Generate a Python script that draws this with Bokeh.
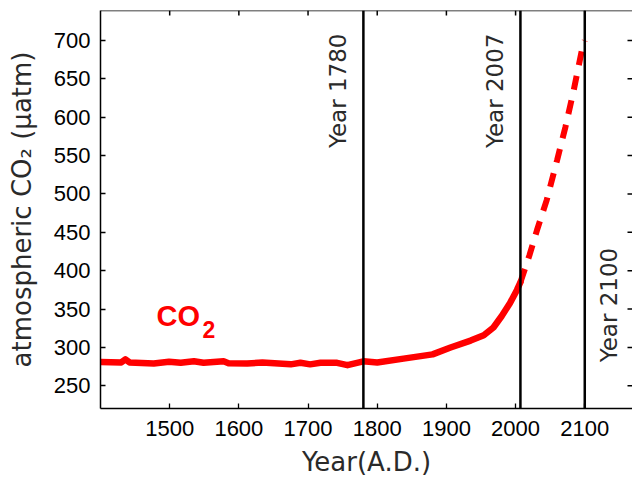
import math
from bokeh.plotting import figure
from bokeh.models import LinearAxis, Span, FixedTicker
from bokeh.core.properties import value
from bokeh.embed import file_html
from bokeh.resources import INLINE

# ---- data ----
hist_years = [1400, 1430, 1436, 1442, 1477, 1499, 1516, 1535, 1549, 1578, 1585,
              1612, 1634, 1675, 1689, 1703, 1718, 1742, 1757, 1780, 1800, 1838,
              1880, 1906, 1935, 1954, 1968, 1980, 1992, 2002, 2007]
hist_co2 = [281, 280.5, 284.5, 280.5, 279, 281.5, 280, 282, 280, 282, 279.5,
            279, 280.5, 278, 280, 278, 280, 280, 277, 282, 280.5, 285.5,
            291, 300, 309, 316, 326, 341, 358, 375, 385]
proj_years = [2007, 2020, 2031, 2045, 2060, 2072, 2084, 2096, 2100]
proj_co2 = [385, 420, 453, 492, 544, 587, 635, 688, 700]
marker_years = [1780, 2007, 2100]
marker_labels = ["Year 1780", "Year 2007", "Year 2100"]
x_ticks = [1500, 1600, 1700, 1800, 1900, 2000, 2100]
y_ticks = [250, 300, 350, 400, 450, 500, 550, 600, 650, 700]

TICK_FONT = "Liberation Sans"
LABEL_FONT = "DejaVu Sans"
X0, X1 = 1400, 2169
Y0, Y1 = 220.5, 739
FRAME_W, FRAME_H = 532, 397
TICK_LEN = 5  # px

p = figure(width=632, height=479, x_range=(X0, X1), y_range=(Y0, Y1),
           output_backend="svg", toolbar_location=None,
           min_border_left=100, min_border_top=10, min_border_right=0,
           min_border_bottom=70, x_axis_location=None, y_axis_location=None)
p.xgrid.visible = False
p.ygrid.visible = False
p.outline_line_color = None
p.background_fill_color = "white"
p.border_fill_color = "white"

def style_axis(ax, ticks):
    ax.ticker = FixedTicker(ticks=ticks)
    ax.major_tick_in = TICK_LEN
    ax.major_tick_out = 0
    ax.minor_tick_line_color = None
    ax.major_tick_line_color = "black"
    ax.major_tick_line_width = 1.3
    ax.axis_line_color = "black"
    ax.axis_line_width = 1.5
    ax.major_label_text_font = TICK_FONT
    ax.major_label_text_font_size = "22px"
    ax.major_label_text_color = "black"
    ax.axis_label_text_font = LABEL_FONT
    ax.axis_label_text_font_style = "normal"
    ax.axis_label_text_color = "#2a2a2a"

xb = LinearAxis(axis_label="Year(A.D.)")
style_axis(xb, x_ticks)
xb.major_label_standoff = 12
xb.axis_label_text_font_size = "26px"
xb.axis_label_standoff = 8
p.add_layout(xb, "below")

yl = LinearAxis(axis_label="atmospheric CO₂ (μatm)")
style_axis(yl, y_ticks)
yl.major_label_standoff = 10
yl.axis_label_text_font_size = "26px"
yl.axis_label_standoff = 14
p.add_layout(yl, "left")

# top spine and inward ticks on top / right edges
dx_tick = TICK_LEN * (X1 - X0) / FRAME_W
dy_tick = TICK_LEN * (Y1 - Y0) / FRAME_H
p.add_layout(Span(location=Y1, dimension="width", line_color="black",
                  line_width=1.5))
p.segment(x0=x_ticks, y0=[Y1] * len(x_ticks), x1=x_ticks,
          y1=[Y1 - dy_tick] * len(x_ticks), line_color="black", line_width=1.5)
p.segment(x0=[X1] * len(y_ticks), y0=y_ticks, x1=[X1 - dx_tick] * len(y_ticks),
          y1=y_ticks, line_color="black", line_width=1.5)

# vertical reference lines
for yr_ in marker_years:
    p.add_layout(Span(location=yr_, dimension="height", line_color="black",
                      line_width=2.5))

# CO2 curves
p.line(hist_years, hist_co2, line_color="#ff0000", line_width=6.5,
       line_join="round", line_cap="round")
p.line(proj_years, proj_co2, line_color="#ff0000", line_width=6,
       line_dash="14 11", line_cap="butt")

# marker labels (rotated)
p.text(x=marker_years[:2], y=[709, 709], text=marker_labels[:2],
       angle=math.pi / 2, text_align="right", text_baseline="middle",
       x_offset=-25, text_font=value(LABEL_FONT), text_font_size="23px",
       text_color="#2a2a2a")
p.text(x=marker_years[2:], y=[280.7], text=marker_labels[2:],
       angle=math.pi / 2, text_align="left", text_baseline="middle",
       x_offset=24, text_font=value(LABEL_FONT), text_font_size="23px",
       text_color="#2a2a2a")

# CO2 label with subscript
p.text(x=[1481], y=[340.8], text=["CO"], text_align="left",
       text_baseline="alphabetic", text_font=value(TICK_FONT),
       text_font_size="29px", text_font_style="bold", text_color="#ff0000")
p.text(x=[1481], y=[340.8], text=["2"], text_align="left",
       text_baseline="alphabetic", x_offset=46, y_offset=13,
       text_font=value(TICK_FONT), text_font_size="23px",
       text_font_style="bold", text_color="#ff0000")

open("out.html", "w").write(file_html(p, INLINE))
